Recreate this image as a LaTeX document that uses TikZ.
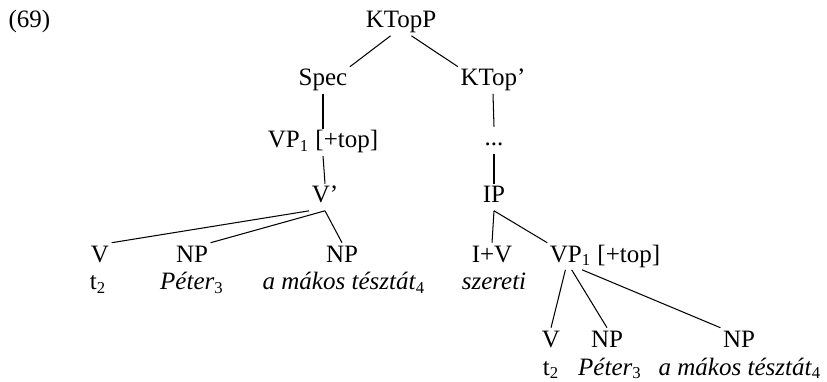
\documentclass[tikz,border=0pt]{standalone}
\usepackage{fontspec}
\setmainfont{Liberation Serif}

\tikzset{
  cat/.style={anchor=base,inner sep=1pt,text height=8pt,text depth=2.5pt},
  ex/.style={anchor=base west,inner sep=0pt}
}

\begin{document}
\begin{tikzpicture}[x=0.48pt,y=-0.48pt,line width=0.5pt,font=\fontsize{12}{14}\selectfont]
\useasboundingbox (0,0) rectangle (827,382);

\node[ex] (num) at (8,28) {(69)};

\node[cat] (ktopp) at (401,28) {KTopP};
\node[cat] (spec) at (323,86) {Spec};
\node[cat] (ktopb) at (493,86) {KTop'};
\node[cat] (vp1) at (323,148) {VP\textsubscript{1} [+top]};
\node[cat] (dots) at (494,146) {...};
\node[cat] (vb) at (325,203) {V'};
\node[cat] (ip) at (494,203) {IP};

\node[cat] (v) at (100,262) {V};
\node[cat] (np) at (192,262) {NP};
\node[cat] (np2) at (342,262) {NP};
\node[cat] (iv) at (492,262) {I+V};
\node[cat] (vp1r) at (605,262) {VP\textsubscript{1} [+top]};

\node[cat] (t) at (98,290) {t\textsubscript{2}};
\node[cat] (peter) at (192,290) {\textit{Péter}\textsubscript{3}};
\node[cat] (teszta) at (344,290) {\textit{a mákos tésztát}\textsubscript{4}};
\node[cat] (szereti) at (494,290) {\textit{szereti}};

\node[cat] (vr) at (551,347) {V};
\node[cat] (npr) at (607,347) {NP};
\node[cat] (npr2) at (739,347) {NP};

\node[cat] (tr) at (551,375) {t\textsubscript{2}};
\node[cat] (peterr) at (610,375) {\textit{Péter}\textsubscript{3}};
\node[cat] (tesztar) at (740,375) {\textit{a mákos tésztát}\textsubscript{4}};

\draw ([xshift=-5pt]ktopp.south) -- (spec.north east);
\draw ([xshift=5pt]ktopp.south) -- (ktopb.north west);
\draw (spec.south) -- (vp1.north);
\draw (vp1.south) -- (vb.north);
\draw (vb.south west) -- (v.north east);
\draw (vb.south) -- (np.north east);
\draw (vb.south) -- (np2.north);

\draw (ktopb.south) -- (dots.north);
\draw (dots.south) -- (ip.north);
\draw (ip.south) -- (iv.north);
\draw (ip.south) -- (vp1r.north west);
\draw ([xshift=-19pt]vp1r.south) -- (vr.north);
\draw ([xshift=-16pt]vp1r.south) -- (npr.north);
\draw ([xshift=-11pt]vp1r.south) -- (npr2.north west);
\end{tikzpicture}
\end{document}
